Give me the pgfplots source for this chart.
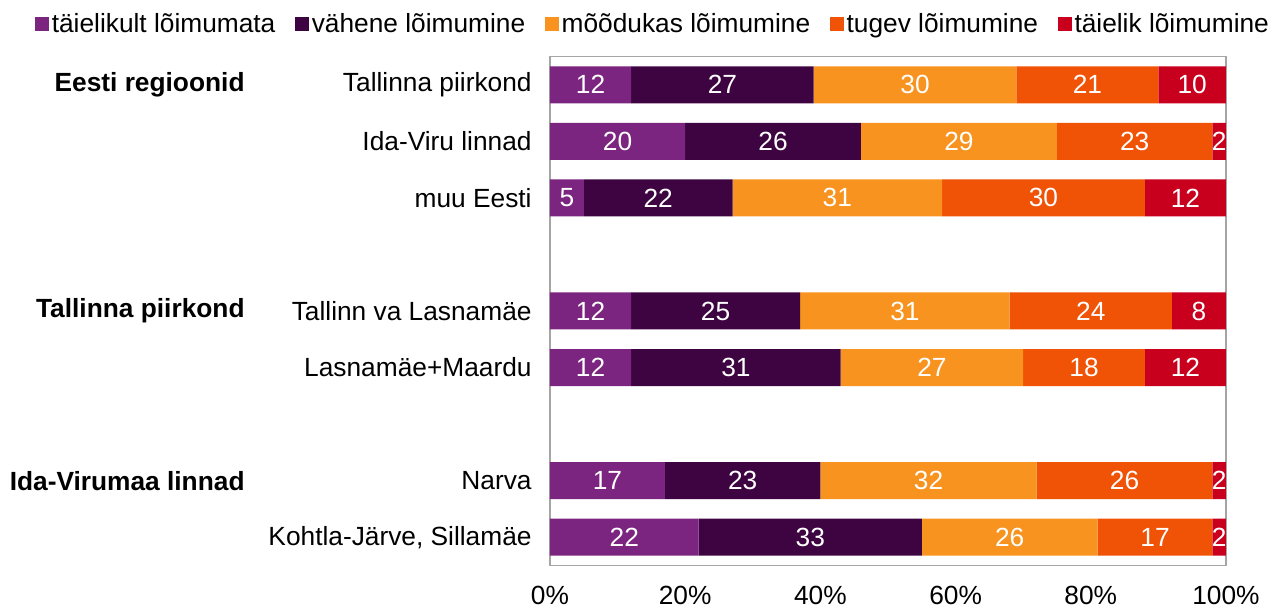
\documentclass[border=0pt]{standalone}
\usepackage{pgfplots}
\usepackage{pgfplotstable}
\pgfplotsset{compat=1.18}
\usepackage{fontspec}
\setmainfont{Liberation Sans}
\definecolor{c1}{RGB}{123,36,128}
\definecolor{c2}{RGB}{61,4,65}
\definecolor{c3}{RGB}{247,147,30}
\definecolor{c4}{RGB}{240,82,6}
\definecolor{c5}{RGB}{200,0,30}
\definecolor{frame}{RGB}{165,165,165}

\pgfplotstableread{
y a b c d e
0 12 27 30 21 10
1 20 26 29 23 2
2 5 22 31 30 12
4 12 25 31 24 8
5 12 31 27 18 12
7 17 23 32 26 2
8 22 33 26 17 2
}\data

\newcommand{\fs}{\fontsize{13.2}{15.8}\selectfont}

\pgfplotsset{
  common/.style={
    scale only axis, width=338bp, height=254.5bp,
    xmin=0, xmax=100, ymin=-0.5, ymax=8.5, y dir=reverse,
    /pgf/number format/assume math mode=true,
    clip=false,
  },
  lbl/.style={only marks, mark=none, nodes near coords, point meta=explicit,
    nodes near coords style={text=white, anchor=center, inner sep=0pt, font=\fs}},
}

\begin{document}
\begin{tikzpicture}[font=\fs]
\begin{axis}[
  common,
  xbar stacked, bar width=18.5bp,
  xtick={0,20,...,100},
  xticklabel={\pgfmathprintnumber{\tick}\%},
  xticklabel style={inner sep=0pt, yshift=-10bp, font=\fs},
  ytick={0,1,2,4,5,7,8},
  yticklabels={Tallinna piirkond, Ida-Viru linnad, muu Eesti, Tallinn va Lasnamäe, Lasnamäe+Maardu, Narva, {Kohtla-Järve, Sillamäe}},
  yticklabel style={inner sep=0pt, xshift=-9bp, font=\fs},
  major tick length=0pt,
  axis line style={draw=frame, line width=0.9bp},
  legend style={at={(axis description cs:0,1)}, anchor=west, xshift=-257.5bp, yshift=16bp,
    draw=none, fill=none, inner sep=0pt, font=\fs,
    nodes={inner sep=1.2bp},
    /tikz/every even column/.append style={column sep=8.8bp}},
  legend columns=-1,
  legend image code/.code={\fill[#1] (0bp,-3.5bp) rectangle (7bp,3.5bp);},
]
\addplot[fill=c1, draw=none] table[x=a, y=y]{\data};
\addplot[fill=c2, draw=none] table[x=b, y=y]{\data};
\addplot[fill=c3, draw=none] table[x=c, y=y]{\data};
\addplot[fill=c4, draw=none] table[x=d, y=y]{\data};
\addplot[fill=c5, draw=none] table[x=e, y=y]{\data};
\legend{täielikult lõimumata, vähene lõimumine, mõõdukas lõimumine, tugev lõimumine, täielik lõimumine}
\node[anchor=east, inner sep=0pt, font=\fs\bfseries, xshift=-152.5bp] at (axis cs:0,0) {Eesti regioonid};
\node[anchor=east, inner sep=0pt, font=\fs\bfseries, xshift=-152.5bp] at (axis cs:0,4) {Tallinna piirkond};
\node[anchor=east, inner sep=0pt, font=\fs\bfseries, xshift=-152.5bp] at (axis cs:0,7) {Ida-Virumaa linnad};
\end{axis}
\begin{axis}[common, hide axis]
\addplot[lbl] table[x expr=\thisrow{a}/2, y=y, meta=a]{\data};
\addplot[lbl] table[x expr=\thisrow{a}+\thisrow{b}/2, y=y, meta=b]{\data};
\addplot[lbl] table[x expr=\thisrow{a}+\thisrow{b}+\thisrow{c}/2, y=y, meta=c]{\data};
\addplot[lbl] table[x expr=\thisrow{a}+\thisrow{b}+\thisrow{c}+\thisrow{d}/2, y=y, meta=d]{\data};
\addplot[lbl] table[x expr=\thisrow{a}+\thisrow{b}+\thisrow{c}+\thisrow{d}+\thisrow{e}/2, y=y, meta=e]{\data};
\end{axis}
\path ([shift={(-275bp,-21.25bp)}]current axis.south west) rectangle ([shift={(23.5bp,28.25bp)}]current axis.north east);
\end{tikzpicture}
\end{document}
